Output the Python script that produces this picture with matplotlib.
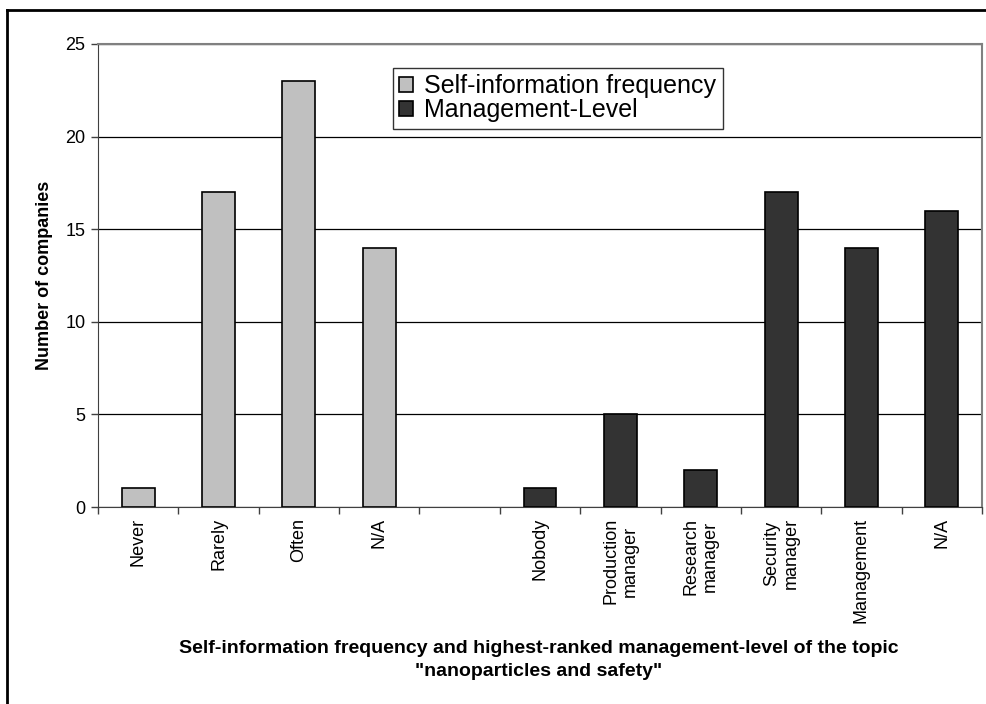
import matplotlib
matplotlib.use('Agg')
import matplotlib.pyplot as plt
from matplotlib.lines import Line2D
import numpy as np

plt.rcParams['font.family'] = ['Liberation Sans', 'DejaVu Sans']

# categories: first group, an empty slot, then the second group
freq_labels = ["Never", "Rarely", "Often", "N/A"]
freq_values = [1, 17, 23, 14]
level_labels = ["Nobody", "Production\nmanager", "Research\nmanager",
                "Security\nmanager", "Management", "N/A"]
level_values = [1, 5, 2, 17, 14, 16]

freq_pos = np.arange(len(freq_labels))
level_pos = np.arange(len(level_labels)) + len(freq_labels) + 1
all_labels = freq_labels + [""] + level_labels
n_slots = len(all_labels)

fig = plt.figure(figsize=(9.86, 7.04), dpi=100)
ax = fig.add_axes([98/986, 1 - 507/704, (982 - 98)/986, (507 - 44)/704])

ax.bar(freq_pos, freq_values, width=0.41, color='#c0c0c0', edgecolor='black',
       linewidth=1.2, label='Self-information frequency', zorder=3)
ax.bar(level_pos, level_values, width=0.41, color='#333333', edgecolor='black',
       linewidth=1.2, label='Management-Level', zorder=3)

ax.set_xlim(-0.5, n_slots - 0.5)
ax.set_ylim(0, 25)
ax.set_yticks(range(0, 26, 5))
ax.yaxis.grid(True, color='black', linewidth=0.9, zorder=0)
ax.set_axisbelow(True)

ax.set_xticks(np.arange(n_slots))
ax.set_xticklabels(all_labels, rotation=90, fontsize=13, va='top', ha='center',
                   multialignment='center')
ax.tick_params(axis='x', length=0, pad=8)
# tick marks at category boundaries
ax.set_xticks(np.arange(n_slots + 1) - 0.5, minor=True)
ax.tick_params(axis='x', which='minor', length=5, width=1, color='#404040')
ax.tick_params(axis='y', labelsize=13, length=5, width=1, color='#404040', pad=4)

for side in ['top', 'right']:
    ax.spines[side].set_color('#808080')
    ax.spines[side].set_linewidth(1.5)
ax.spines['left'].set_color('#404040')
ax.spines['bottom'].set_color('#404040')

leg = ax.legend(loc='upper left', bbox_to_anchor=((393 - 98)/884, 1 - (68 - 44)/463),
                fontsize=18, frameon=True, fancybox=False, edgecolor='black',
                borderpad=0.25, labelspacing=0.0, handlelength=0.56, handleheight=0.56,
                handletextpad=0.45, borderaxespad=0)
leg.get_frame().set_linewidth(1.0)

fig.text(45/986, 1 - 275/704, "Number of companies", rotation=90, fontsize=13,
         fontweight='bold', ha='center', va='center')
fig.text(539/986, 1 - 660/704,
         "Self-information frequency and highest-ranked management-level of the topic\n"
         "\"nanoparticles and safety\"",
         fontsize=14, fontweight='bold', ha='center', va='center', linespacing=1.45)

# outer chart border (top and left visible)
fig.add_artist(Line2D([7/986, 1], [1 - 10/704, 1 - 10/704], transform=fig.transFigure,
                      color='black', linewidth=2))
fig.add_artist(Line2D([7/986, 7/986], [0, 1 - 10/704], transform=fig.transFigure,
                      color='black', linewidth=2))

fig.savefig('out.png', dpi=100)
